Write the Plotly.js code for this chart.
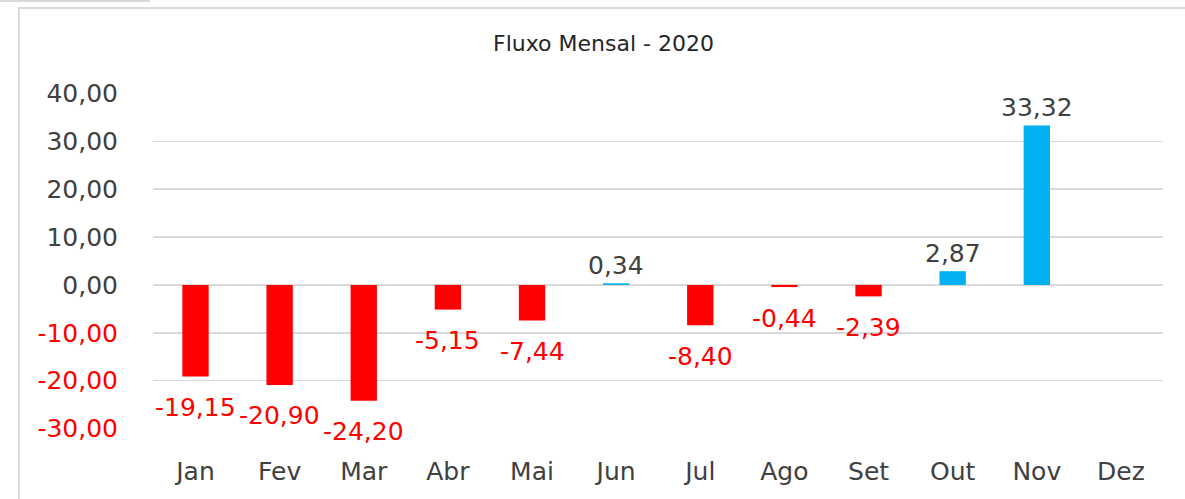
<!DOCTYPE html>
<html>
<head>
<meta charset="utf-8">
<script src="https://cdn.plot.ly/plotly-3.0.1.min.js"></script>
<style>
  html, body { margin: 0; padding: 0; background: #fff; overflow: hidden; }
  #frame { position: absolute; left: 18px; top: 7px; width: 1200px; height: 520px;
           border-left: 2px solid #d9d9d9; border-top: 2px solid #d9d9d9; }
  #cell { position: absolute; left: 0; top: 0; width: 150px; height: 2px; background: #d9d9d9; }
  #plot { position: absolute; left: 0; top: 0; width: 1185px; height: 499px; }
</style>
</head>
<body>
<div id="cell"></div>
<div id="frame"></div>
<div id="plot"></div>
<script>
var meses = ['Jan', 'Fev', 'Mar', 'Abr', 'Mai', 'Jun', 'Jul', 'Ago', 'Set', 'Out', 'Nov', 'Dez'];
var fluxo = [-19.15, -20.90, -24.20, -5.15, -7.44, 0.34, -8.40, -0.44, -2.39, 2.87, 33.32, null];
var yTicks = [40, 30, 20, 10, 0, -10, -20, -30];

var VERMELHO = '#ff0000';
var AZUL = '#00b0f0';
var CINZA = '#404040';

function fmt(v) {
    return v.toFixed(2).replace('.', ',');
}

var cores = fluxo.map(function (v) { return v < 0 ? VERMELHO : AZUL; });

var barras = {
    type: 'bar',
    x: meses,
    y: fluxo,
    width: 0.313,
    marker: { color: cores, line: { width: 0 } },
    hoverinfo: 'x+y'
};

// rotulos dos valores
var rotulos = [];
fluxo.forEach(function (v, i) {
    if (v === null) return;
    rotulos.push({
        x: meses[i],
        y: v,
        xref: 'x', yref: 'y',
        text: fmt(v),
        showarrow: false,
        yanchor: 'middle',
        yshift: v < 0 ? -31 : 18,
        font: { family: 'DejaVu Sans', size: 25, color: v < 0 ? VERMELHO : CINZA }
    });
});

var ticktext = yTicks.map(function (t) {
    return t < 0 ? '<span style="color:' + VERMELHO + '">' + fmt(t) + '</span>' : fmt(t);
});

var layout = {
    width: 1185,
    height: 499,
    margin: { l: 153, r: 22, t: 93, b: 70 },
    paper_bgcolor: 'rgba(0,0,0,0)',
    plot_bgcolor: 'rgba(0,0,0,0)',
    showlegend: false,
    bargap: 0.687,
    title: {
        text: 'Fluxo Mensal - 2020',
        x: 0.5093, xanchor: 'center',
        y: 0.914, yanchor: 'middle',
        font: { family: 'DejaVu Sans', size: 22, color: '#262626' }
    },
    xaxis: {
        type: 'category',
        showgrid: false,
        zeroline: false,
        showline: false,
        ticks: '',
        ticklabelstandoff: 25,
        tickfont: { family: 'DejaVu Sans', size: 25, color: CINZA }
    },
    yaxis: {
        range: [-30.1, 40.1],
        tickvals: yTicks,
        ticktext: ticktext,
        showgrid: true,
        gridcolor: '#d9d9d9',
        gridwidth: 1.5,
        zeroline: false,
        showline: false,
        ticks: '',
        ticklabelstandoff: 34,
        tickfont: { family: 'DejaVu Sans', size: 25, color: CINZA }
    },
    annotations: rotulos
};

Plotly.newPlot('plot', [barras], layout, { displayModeBar: false, staticPlot: true });
</script>
</body>
</html>
